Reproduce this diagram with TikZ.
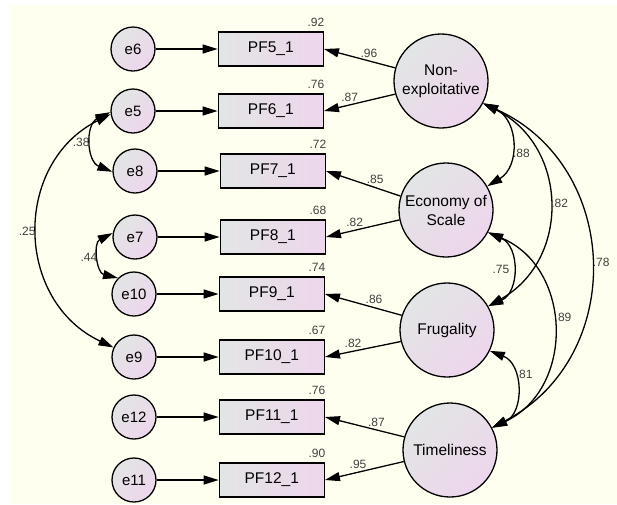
\documentclass[tikz,border=0pt]{standalone}
\usepackage{fontspec}
\setmainfont{Liberation Sans}
\usepackage{tikz}
\usetikzlibrary{arrows.meta,positioning}

\definecolor{cream}{RGB}{255,255,240}
\definecolor{shadegrey}{RGB}{226,229,229}
\definecolor{shadepink}{RGB}{238,214,236}

\begin{document}
\begin{tikzpicture}[x=1pt,y=-1pt,line width=1.3pt,>={Triangle[length=15pt,width=9pt]},
    err/.style={circle,draw,minimum size=44pt,inner sep=0pt,top color=shadegrey,bottom color=shadepink,shading angle=45,font=\fontsize{15}{17}\selectfont},
    latent/.style={circle,draw,minimum size=94pt,inner sep=0pt,align=center,top color=shadegrey,bottom color=shadepink,shading angle=45,font=\fontsize{15.5}{19}\selectfont},
    obs/.style={rectangle,draw,minimum width=105pt,minimum height=34pt,inner sep=0pt,left color=shadegrey,right color=shadepink,font=\fontsize{15.5}{17}\selectfont},
    num/.style={font=\fontsize{12}{12}\selectfont,text=black!75,inner sep=2pt},
    r2/.style={num,anchor=south east,inner sep=1pt,yshift=3pt,xshift=2pt}]
    \useasboundingbox (0,0) rectangle (617,504);
    \fill[white] (0,0) rectangle (617,504);
    \fill[cream] (10,5) rectangle (617,504);

    % error terms
    \node[err] (e6)  at (133,49)  {e6};
    \node[err] (e5)  at (133,111) {e5};
    \node[err] (e8)  at (135,171) {e8};
    \node[err] (e7)  at (135,237) {e7};
    \node[err] (e10) at (134,294) {e10};
    \node[err] (e9)  at (134,357) {e9};
    \node[err] (e12) at (134,417) {e12};
    \node[err] (e11) at (134,480) {e11};

    % observed items
    \node[obs, label={[r2]north east:.92}] (pf5)  [right=62pt of e6]  {PF5\_1};
    \node[obs, label={[r2]north east:.76}] (pf6)  [right=62pt of e5]  {PF6\_1};
    \node[obs, label={[r2]north east:.72}] (pf7)  [right=62pt of e8]  {PF7\_1};
    \node[obs, label={[r2]north east:.68}] (pf8)  [right=62pt of e7]  {PF8\_1};
    \node[obs, label={[r2]north east:.74}] (pf9)  [right=62pt of e10] {PF9\_1};
    \node[obs, label={[r2]north east:.67}] (pf10) [right=62pt of e9]  {PF10\_1};
    \node[obs, label={[r2]north east:.76}] (pf11) [right=62pt of e12] {PF11\_1};
    \node[obs, label={[r2]north east:.90}] (pf12) [right=62pt of e11] {PF12\_1};

    % factors
    \node[latent] (nonexp) at (441,81)  {Non-\\exploitative};
    \node[latent] (econ)   at (446,210) {Economy of\\Scale};
    \node[latent] (frug)   at (447,330) {Frugality};
    \node[latent] (time)   at (450,450) {Timeliness};

    \path[->]
        (e6)  edge (pf5)
        (e5)  edge (pf6)
        (e8)  edge (pf7)
        (e7)  edge (pf8)
        (e10) edge (pf9)
        (e9)  edge (pf10)
        (e12) edge (pf11)
        (e11) edge (pf12)
        (nonexp.164) edge node[num,above,pos=0.37,inner sep=3pt] {.96} (pf5.east)
        (nonexp.196) edge node[num,above,pos=0.64,inner sep=3pt] {.87} (pf6.east)
        (econ.163)   edge node[num,above,pos=0.34,inner sep=3pt] {.85} (pf7.east)
        (econ.192)   edge node[num,above,pos=0.61,inner sep=3pt] {.82} (pf8.east)
        (frug.162)   edge node[num,above,pos=0.36,inner sep=3pt] {.86} (pf9.east)
        (frug.194)   edge node[num,above,pos=0.63,inner sep=3pt] {.82} (pf10.east)
        (time.164)   edge node[num,above,pos=0.35,inner sep=3pt] {.87} (pf11.east)
        (time.194)   edge node[num,above,pos=0.58,inner sep=3pt] {.95} (pf12.east);

    % covariances
    \path[<->]
        (nonexp.-28) edge[bend left=62, looseness=1.2] node[num,right,pos=0.6] {.88} (econ.30)
        (nonexp.-28) edge[bend left=62, looseness=1.2] node[num,right] {.82} (frug.30)
        (nonexp.-28) edge[bend left=64, looseness=1.2] node[num,right] {.78} (time.28)
        (econ.-28)   edge[bend left=66, looseness=1.2] node[num,left] {.75} (frug.30)
        (econ.-28)   edge[bend left=66, looseness=1.2] node[num,right,pos=0.45] {.89} (time.28)
        (frug.-26)   edge[bend left=67, looseness=1.2] node[num,right,pos=0.35] {.81} (time.28)
        (e5.183) edge[bend right=66, looseness=1.2] node[num,left] {.38} (e8.182)
        (e7.170) edge[bend right=70, looseness=1.25] node[num,left] {.44} (e10.135)
        (e5.188) edge[bend right=64, looseness=1.2] node[num,left] {.25} (e9.155);
\end{tikzpicture}
\end{document}
